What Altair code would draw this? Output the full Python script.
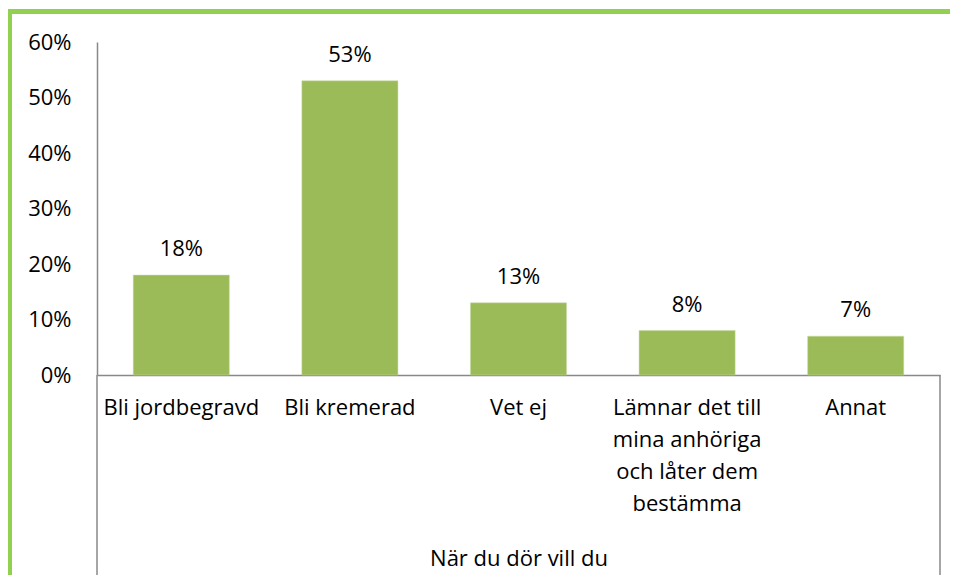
import altair as alt
import pandas as pd

categories = [
    "Bli jordbegravd",
    "Bli kremerad",
    "Vet ej",
    "Lämnar det till\nmina anhöriga\noch låter dem\nbestämma",
    "Annat",
]
values = [0.18, 0.53, 0.13, 0.08, 0.07]
labels = ["18%", "53%", "13%", "8%", "7%"]
y_ticks = [0, 0.1, 0.2, 0.3, 0.4, 0.5, 0.6]

df = pd.DataFrame({"cat": categories, "val": values, "lab": labels})

FONT = "Open Sans"
FS = 22
W, H = 843, 333
BAR = "#9BBB59"
GREEN = "#92D050"
GRAY = "#898989"

x_enc = alt.X(
    "cat:N",
    sort=None,
    scale=alt.Scale(paddingInner=0.43, paddingOuter=0.215),
    axis=alt.Axis(
        title="När du dör vill du",
        labelExpr="split(datum.label, '\\n')",
        labelAngle=0,
        labelFont=FONT,
        labelFontSize=FS,
        labelColor="#000000",
        labelLineHeight=32,
        labelPadding=22,
        labelLimit=300,
        ticks=False,
        domainColor=GRAY,
        domainWidth=1.5,
        titleFont=FONT,
        titleFontSize=FS,
        titleFontWeight="normal",
        titleColor="#000000",
        titleY=183,
        titleBaseline="middle",
    ),
)
y_enc = alt.Y(
    "val:Q",
    scale=alt.Scale(domain=[0, 0.6], nice=False),
    axis=alt.Axis(
        title=None,
        values=y_ticks,
        format=".0%",
        grid=False,
        ticks=False,
        labelFont=FONT,
        labelFontSize=FS,
        labelColor="#000000",
        labelPadding=26,
        domainColor=GRAY,
        domainWidth=1.5,
    ),
)

bars = alt.Chart(df).mark_bar(color=BAR, stroke="#c9dba5", strokeWidth=0.5).encode(x=x_enc, y=y_enc)
text = alt.Chart(df).mark_text(
    font=FONT, fontSize=FS, color="#000000", baseline="alphabetic", dy=-19
).encode(x=alt.X("cat:N", sort=None), y="val:Q", text="lab:N")

frame_df = pd.DataFrame({"k": [0]})
left_ext = alt.Chart(frame_df).mark_rule(color=GRAY, strokeWidth=1.5).encode(
    x=alt.value(0), y=alt.value(H), y2=alt.value(536)
)
right_ext = alt.Chart(frame_df).mark_rule(color=GRAY, strokeWidth=1.5).encode(
    x=alt.value(W), y=alt.value(H), y2=alt.value(536)
)
top_border = alt.Chart(frame_df).mark_rule(color=GREEN, strokeWidth=5).encode(
    x=alt.value(-92), x2=alt.value(880), y=alt.value(-30.5)
)
left_border = alt.Chart(frame_df).mark_rule(color=GREEN, strokeWidth=5).encode(
    x=alt.value(-87.5), y=alt.value(-33), y2=alt.value(545)
)

chart = (
    alt.layer(bars, text, left_ext, right_ext, top_border, left_border)
    .properties(
        width=W,
        height=H,
        autosize=alt.AutoSizeParams(type="none"),
        padding={"left": 89, "top": 34, "right": 10, "bottom": 200},
    )
    .configure_view(strokeWidth=0)
)

chart.save("out.html", embed_options={"renderer": "svg", "actions": False})
